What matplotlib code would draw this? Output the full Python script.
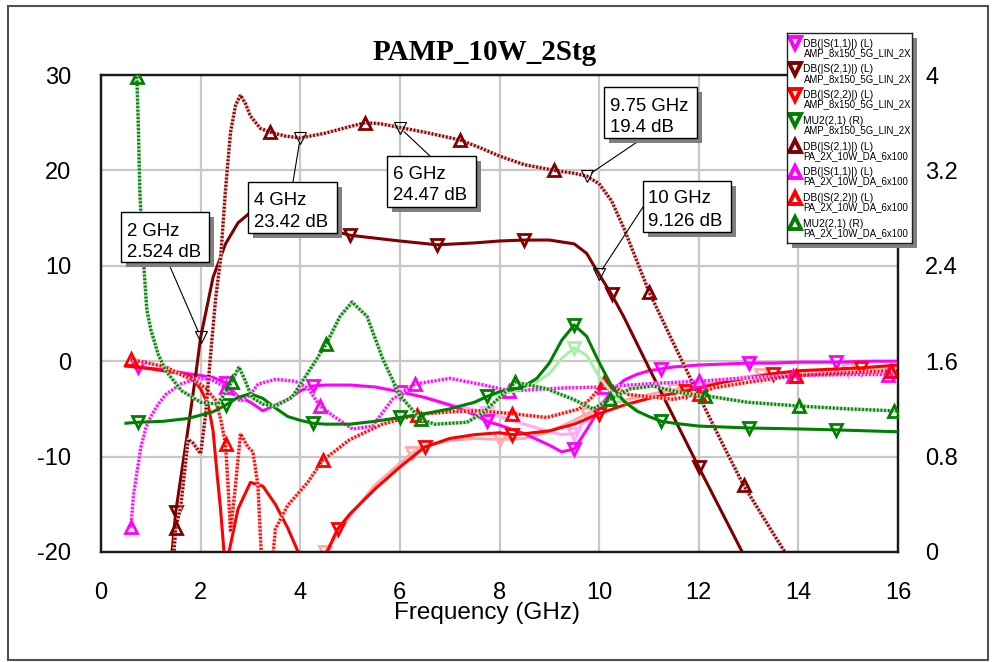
import matplotlib
matplotlib.use("Agg")
import matplotlib.pyplot as plt
from matplotlib.patches import Rectangle

plt.rcParams['font.family'] = ['Liberation Sans', 'DejaVu Sans']

# ------------------------------------------------------------------ data
# AMP_8x150_5G_LIN_2X  (solid traces, down-triangle markers)
f_amp_s11 = [0.5, 0.75, 1.25, 1.75, 2.25, 2.5, 2.75, 3.0, 3.25, 3.5, 3.75, 4.0, 4.25, 4.5, 5.0,
             5.5, 6.0, 6.5, 7.0, 7.5, 7.75, 8.0, 8.5, 9.0, 9.25, 9.5, 9.75, 10.0, 10.25, 10.5,
             10.75, 11.0, 11.25, 11.5, 12.0, 12.5, 13.0, 13.5, 14.0, 14.75, 15.5, 16.0]
v_amp_s11 = [-0.5, -0.6, -0.9, -1.3, -1.7, -2.3, -3.7, -4.3, -5.2, -4.6, -4.0, -3.1, -2.6, -2.5, -2.5,
             -2.7, -3.2, -3.8, -4.6, -5.6, -6.3, -6.7, -7.6, -8.8, -9.5, -9.2, -7.2, -5.0, -3.2, -2.0,
             -1.4, -1.0, -0.8, -0.6, -0.4, -0.3, -0.2, -0.2, -0.1, -0.1, 0.0, 0.0]
mk_amp_s11 = [0.75, 2.5, 4.25, 6.0, 7.75, 9.5, 11.25, 13.0, 14.75]

f_amp_s21 = [1.4, 1.5, 1.6, 1.75, 1.9, 2.0, 2.1, 2.25, 2.5, 2.75, 3.0, 3.25, 3.5, 4.0, 4.5,
             5.0, 5.5, 6.0, 6.75, 7.5, 8.0, 8.5, 9.0, 9.5, 9.75, 10.0, 10.25, 10.5, 11.0, 11.5,
             12.0, 12.5, 13.0]
v_amp_s21 = [-21.5, -15.8, -12.3, -7.0, -1.5, 2.5, 5.0, 8.8, 12.3, 14.5, 15.6, 16.0, 15.7, 14.8, 13.9,
             13.2, 12.9, 12.6, 12.2, 12.4, 12.6, 12.7, 12.7, 12.3, 11.3, 9.1, 7.0, 4.6, -0.7, -5.9,
             -11.1, -16.2, -21.3]
mk_amp_s21 = [1.5, 3.25, 5.0, 6.75, 8.5, 10.25, 12.0]

f_amp_s22 = [0.5, 1.0, 1.5, 1.8, 2.0, 2.15, 2.25, 2.33, 2.4, 2.5, 2.55, 2.75, 3.0, 3.25, 3.5,
             3.75, 4.0, 4.25, 4.5, 4.75, 5.0, 5.5, 6.0, 6.5, 7.0, 7.5, 8.0, 8.25, 8.5, 9.0,
             9.5, 10.0, 10.5, 11.0, 11.75, 12.5, 13.5, 14.0, 15.25, 16.0]
v_amp_s22 = [-0.5, -0.8, -1.2, -1.6, -2.9, -4.5, -7.3, -11.8, -15.5, -22.0, -20.5, -15.5, -12.7, -13.1, -15.0,
             -17.5, -20.5, -24.0, -20.4, -17.6, -16.0, -13.4, -11.1, -9.0, -8.1, -7.7, -7.5, -7.7, -7.6, -7.3,
             -6.6, -5.5, -4.6, -3.9, -3.1, -2.2, -1.3, -1.0, -0.7, -0.4]
mk_amp_s22 = [4.75, 6.5, 8.25, 10.0, 11.75, 13.5, 15.25]

f_amp_mu2 = [0.5, 0.75, 1.25, 1.75, 2.25, 2.5, 2.75, 3.0, 3.25, 3.5, 3.75, 4.0, 4.25, 4.5,
             5.0, 5.5, 6.0, 6.5, 7.0, 7.5, 7.75, 8.0, 8.25, 8.5, 8.75, 9.0, 9.25, 9.5, 9.75, 10.0,
             10.25, 10.5, 10.75, 11.0, 11.25, 11.5, 12.0, 12.5, 13.0, 14.0, 14.75, 16.0]
v_amp_mu2 = [1.080, 1.088, 1.096, 1.120, 1.176, 1.232, 1.296, 1.328, 1.288, 1.208, 1.136, 1.104, 1.080, 1.072,
             1.072, 1.096, 1.128, 1.160, 1.200, 1.256, 1.304, 1.344, 1.360, 1.392, 1.456, 1.584, 1.776, 1.904, 1.808, 1.590,
             1.392, 1.264, 1.184, 1.136, 1.096, 1.080, 1.056, 1.048, 1.040, 1.032, 1.024, 1.008]
mk_amp_mu2 = [0.75, 2.5, 4.25, 6.0, 7.75, 9.5, 11.25, 13.0, 14.75]

# previous-sweep (history) traces of the AMP, drawn in light colours
f_hist_s11 = [6.5, 7.0, 7.5, 7.75, 8.0, 8.5, 9.0, 9.25, 9.5, 9.75, 10.0, 10.25, 10.5, 10.75]
v_hist_s11 = [-3.8, -4.5, -5.1, -5.4, -5.8, -6.6, -7.4, -7.7, -7.6, -6.0, -4.6, -3.2, -2.0, -1.4]
mk_hist_s11 = [7.75, 9.5]

f_hist_s22 = [4.3, 4.5, 5.0, 5.5, 6.0, 6.25, 6.5, 7.0, 7.5, 8.0, 8.5, 9.0, 9.5, 9.75, 10.0,
              10.5, 11.0, 11.5, 12.0, 12.5, 13.25, 14.0, 15.0, 16.0]
v_hist_s22 = [-22.0, -20.0, -16.2, -13.0, -10.7, -9.6, -8.9, -8.3, -8.1, -8.2, -8.1, -7.4, -6.2, -5.5, -4.9,
              -4.1, -3.5, -3.0, -2.5, -2.0, -1.4, -1.1, -0.9, -0.6]
mk_hist_s22 = [4.5, 6.25, 8.0, 9.75, 11.5, 13.25, 15.0]

f_hist_mu2 = [7.5, 7.75, 8.0, 8.25, 8.5, 8.75, 9.0, 9.25, 9.5, 9.75, 10.0, 10.25, 10.5, 10.75]
v_hist_mu2 = [1.256, 1.304, 1.328, 1.344, 1.376, 1.424, 1.496, 1.624, 1.712, 1.648, 1.472, 1.336, 1.256, 1.200]
mk_hist_mu2 = [7.75, 9.5]

# PA_2X_10W_DA_6x100  (dotted traces, up-triangle markers)
f_pa_s21 = [1.45, 1.5, 1.6, 1.75, 1.85, 2.0, 2.1, 2.2, 2.3, 2.4, 2.5, 2.6, 2.7, 2.8, 2.9,
            3.0, 3.2, 3.4, 3.7, 4.0, 4.5, 5.0, 5.3, 5.6, 6.0, 6.5, 7.2, 7.6, 8.0, 8.5,
            9.1, 9.5, 9.75, 10.0, 10.25, 10.5, 11.0, 11.5, 12.0, 12.5, 12.9, 13.5, 13.8]
v_pa_s21 = [-21.0, -17.5, -15.3, -8.2, -8.6, -9.7, -5.6, 0.7, 6.5, 10.7, 18.0, 24.0, 26.8, 27.9, 27.0,
            25.7, 24.4, 24.0, 23.6, 23.4, 23.9, 24.6, 25.0, 24.9, 24.5, 24.0, 23.2, 22.4, 21.5, 20.6,
            20.0, 19.7, 19.4, 18.6, 16.8, 13.9, 7.3, 1.8, -3.6, -8.9, -13.0, -18.1, -20.6]
mk_pa_s21 = [1.5, 3.4, 5.3, 7.2, 9.1, 11.0, 12.9]

f_pa_s11 = [0.6, 0.65, 0.72, 0.8, 0.9, 1.0, 1.15, 1.3, 1.6, 1.95, 2.2, 2.5, 2.65, 2.8, 3.0,
            3.15, 3.5, 3.9, 4.15, 4.4, 4.65, 5.05, 5.45, 5.85, 6.3, 7.0, 7.6, 8.2, 8.6, 9.3,
            10.1, 10.6, 11.2, 12.0, 12.8, 13.9, 15.0, 15.8, 16.0]
v_pa_s11 = [-17.4, -14.1, -11.7, -9.0, -7.0, -5.8, -4.5, -3.5, -2.4, -1.8, -1.9, -2.7, -3.4, -4.2, -3.5,
            -2.4, -1.9, -2.1, -2.8, -4.7, -5.7, -7.1, -6.8, -4.0, -2.4, -1.8, -2.4, -3.1, -3.0, -2.8,
            -2.7, -2.5, -2.3, -2.1, -1.8, -1.5, -1.4, -1.4, -1.4]
mk_pa_s11 = [0.6, 2.5, 4.4, 6.3, 8.2, 10.1, 12.0, 13.9, 15.8]

f_pa_s22 = [0.6, 1.3, 1.6, 1.9, 2.1, 2.3, 2.4, 2.5, 2.55, 2.6, 2.7, 2.8, 2.95, 3.05, 3.15,
            3.22, 3.33, 3.45, 3.5, 3.75, 4.15, 4.45, 5.0, 5.65, 6.35, 7.0, 7.6, 8.25, 8.95, 9.6,
            9.85, 10.1, 10.6, 11.5, 12.0, 12.3, 13.0, 13.95, 15.0, 15.85, 16.0]
v_pa_s22 = [0.2, -0.6, -1.4, -2.1, -2.8, -4.1, -6.0, -8.7, -13.0, -17.9, -13.0, -7.6, -9.0, -9.5, -13.0,
            -20.5, -23.0, -20.5, -17.6, -15.1, -12.7, -10.4, -8.2, -6.6, -5.6, -5.3, -5.2, -5.5, -5.9, -5.0,
            -3.8, -2.2, -3.5, -4.0, -3.4, -2.8, -2.2, -1.5, -1.2, -1.0, -1.0]
mk_pa_s22 = [0.6, 2.5, 4.45, 6.35, 8.25, 10.1, 12.0, 13.95, 15.85]

f_pa_mu2 = [0.72, 0.75, 0.78, 0.85, 0.92, 1.0, 1.15, 1.3, 1.62, 2.0, 2.35, 2.55, 2.62, 2.77, 2.9,
            3.03, 3.25, 3.5, 3.83, 4.23, 4.52, 4.8, 5.04, 5.34, 5.66, 6.0, 6.42, 6.7, 7.35, 7.67,
            8.0, 8.32, 8.95, 9.48, 9.88, 10.22, 10.62, 11.08, 11.63, 12.12, 12.97, 14.02, 15.0, 15.92, 16.0]
v_pa_mu2 = [3.984, 3.568, 3.016, 2.456, 2.032, 1.864, 1.656, 1.520, 1.352, 1.256, 1.240, 1.376, 1.424, 1.552, 1.432,
            1.296, 1.240, 1.224, 1.296, 1.552, 1.744, 1.976, 2.096, 1.976, 1.616, 1.312, 1.112, 1.072, 1.088, 1.168,
            1.296, 1.424, 1.368, 1.280, 1.200, 1.280, 1.368, 1.392, 1.336, 1.312, 1.256, 1.224, 1.200, 1.184, 1.184]
mk_pa_mu2 = [0.72, 2.62, 4.52, 6.42, 8.32, 10.22, 12.12, 14.02, 15.92]

# marker readouts
ann_freq = [2, 4, 6, 9.75, 10]
ann_db = [2.524, 23.42, 24.47, 19.4, 9.126]

legend_names = ["DB(|S(1,1)|) (L)", "DB(|S(2,1)|) (L)", "DB(|S(2,2)|) (L)", "MU2(2,1) (R)",
                "DB(|S(2,1)|) (L)", "DB(|S(1,1)|) (L)", "DB(|S(2,2)|) (L)", "MU2(2,1) (R)"]
legend_devs = ["AMP_8x150_5G_LIN_2X"] * 4 + ["PA_2X_10W_DA_6x100"] * 4

x_ticks = [0, 2, 4, 6, 8, 10, 12, 14, 16]
y_left_ticks = [-20, -10, 0, 10, 20, 30]
y_right_ticks = [0, 0.8, 1.6, 2.4, 3.2, 4]
y_right_labels = ["0", "0.8", "1.6", "2.4", "3.2", "4"]

# ------------------------------------------------------------------ figure
W, H = 992, 662
fig = plt.figure(figsize=(W / 100, H / 100), dpi=100)
fig.patch.set_facecolor('white')

AX_L, AX_R, AX_T, AX_B = 101, 898, 75, 552
ax = fig.add_axes([AX_L / W, 1 - AX_B / H, (AX_R - AX_L) / W, (AX_B - AX_T) / H])
ax.set_xlim(0, 16)
ax.set_ylim(-20, 30)
ax2 = ax.twinx()
ax2.set_ylim(0, 4)

ax.set_xticks(x_ticks)
ax.set_xticklabels([str(t) for t in x_ticks])
ax.set_yticks(y_left_ticks)
ax.set_yticklabels([str(t) for t in y_left_ticks])
ax2.set_yticks(y_right_ticks)
ax2.set_yticklabels(y_right_labels)
ax.tick_params(axis='x', length=0, labelsize=17, pad=21.5)
ax.tick_params(axis='y', length=0, labelsize=17, pad=21.5)
ax2.tick_params(axis='y', length=0, labelsize=17, pad=19.5)
ax.grid(True, color='#c8c8c8', lw=1.6)
ax.set_axisbelow(True)
for a in (ax, ax2):
    for s in a.spines.values():
        s.set_linewidth(1.6)
        s.set_color('#1a1a1a')


def mk_idx(f, marks):
    return [min(range(len(f)), key=lambda i: abs(f[i] - m)) for m in marks]


MS, MEW = 9, 2.0


def solid(a, f, v, mk, marker, color, z=3, lw=2.2):
    a.plot(f, v, color=color, lw=lw, marker=marker, ms=MS, mew=MEW, mfc='none', mec=color,
           markevery=mk_idx(f, mk), zorder=z, solid_joinstyle='round')


def dotted(a, f, v, mk, marker, color, light, z=3):
    a.plot(f, v, color=light, lw=2.4, zorder=z)
    a.plot(f, v, color=color, lw=2.4, ls=(0, (0.5, 0.6)), marker=marker, ms=MS, mew=MEW,
           mfc='none', mec=color, markevery=mk_idx(f, mk), zorder=z + 0.01)


MAG, DRED, RED, GRN = '#ff00ff', '#800000', '#ff0000', '#008000'

# history traces
solid(ax, f_hist_s11, v_hist_s11, mk_hist_s11, 'v', '#ffaaff', z=2)
solid(ax, f_hist_s22, v_hist_s22, mk_hist_s22, 'v', '#ffaaaa', z=2)
solid(ax2, f_hist_mu2, v_hist_mu2, mk_hist_mu2, 'v', '#a8f0a8', z=2)

# AMP traces
solid(ax, f_amp_s11, v_amp_s11, mk_amp_s11, 'v', MAG)
solid(ax, f_amp_s21, v_amp_s21, mk_amp_s21, 'v', DRED)
solid(ax, f_amp_s22, v_amp_s22, mk_amp_s22, 'v', RED)
solid(ax2, f_amp_mu2, v_amp_mu2, mk_amp_mu2, 'v', GRN)

# PA traces
dotted(ax, f_pa_s21, v_pa_s21, mk_pa_s21, '^', DRED, '#e8b0b0', z=4)
dotted(ax, f_pa_s11, v_pa_s11, mk_pa_s11, '^', MAG, '#ffb8ff', z=4)
dotted(ax, f_pa_s22, v_pa_s22, mk_pa_s22, '^', RED, '#ffb8b8', z=4)
dotted(ax2, f_pa_mu2, v_pa_mu2, mk_pa_mu2, '^', GRN, '#a8d8a8', z=4)

# ------------------------------------------------------------------ marker readouts
ax.plot(ann_freq, ann_db, ls='none', marker='v', ms=9, mfc='none', mec='black', mew=0.8, zorder=8)
box_px = [(121, 212, 209, 262), (248, 182, 337, 233), (387, 156, 476, 207),
          (604, 87, 697, 138), (643, 181, 731, 232)]
text_x = [127, 254, 393, 610, 648]
base1 = [236, 205, 179, 111, 203]
base2 = [257, 227, 200, 132, 226]
lead_px = [(168, 262), (293, 182), (430, 156), (643, 138), (643, 207)]

for i, (fr, db) in enumerate(zip(ann_freq, ann_db)):
    sx, sy = lead_px[i]
    ax.annotate('', xy=(fr, db), xycoords='data', xytext=(sx, H - sy), textcoords='figure pixels',
                arrowprops=dict(arrowstyle='-', color='black', lw=0.8, shrinkA=0, shrinkB=4),
                zorder=8)
    x0, y0, x1, y1 = box_px[i]
    fig.add_artist(Rectangle(((x0 + 5) / W, 1 - (y1 + 5) / H), (x1 - x0) / W, (y1 - y0) / H,
                             transform=fig.transFigure, fc='#808080', ec='none', zorder=6))
    fig.add_artist(Rectangle((x0 / W, 1 - y1 / H), (x1 - x0) / W, (y1 - y0) / H,
                             transform=fig.transFigure, fc='white', ec='black', lw=1.0, zorder=6.1))
    fig.text(text_x[i] / W, 1 - base1[i] / H, f"{fr:g} GHz", fontsize=13.4, va='baseline',
             ha='left', zorder=6.2)
    fig.text(text_x[i] / W, 1 - base2[i] / H, f"{db:g} dB", fontsize=13.4, va='baseline',
             ha='left', zorder=6.2)

# ------------------------------------------------------------------ legend
LG_L, LG_T, LG_R, LG_B = 787, 33, 912, 243
fig.add_artist(Rectangle(((LG_L + 5) / W, 1 - (LG_B + 5) / H), (LG_R - LG_L) / W, (LG_B - LG_T) / H,
                         transform=fig.transFigure, fc='#808080', ec='none', zorder=8))
lax = fig.add_axes([LG_L / W, 1 - LG_B / H, (LG_R - LG_L) / W, (LG_B - LG_T) / H], zorder=9)
lax.set_xlim(0, LG_R - LG_L)
lax.set_ylim(LG_B - LG_T, 0)
lax.set_xticks([])
lax.set_yticks([])
lax.set_facecolor('white')
for s in lax.spines.values():
    s.set_linewidth(1.0)
    s.set_color('#202020')
leg_markers = ['v', 'v', 'v', 'v', '^', '^', '^', '^']
leg_colors = [MAG, DRED, RED, GRN, DRED, MAG, RED, GRN]
for i in range(8):
    y = 10.3 + 25.7 * i
    lax.plot([8], [y], ls='none', marker=leg_markers[i], ms=8.5, mfc='none', mec=leg_colors[i], mew=2.8)
    lax.text(16, y + 0.5, legend_names[i], fontsize=7.4, va='center', ha='left', clip_on=True)
    lax.text(16.5, y + 9.8, legend_devs[i], fontsize=6.9, va='center', ha='left', clip_on=True)

# ------------------------------------------------------------------ title, label, frame
fig.text(485 / W, 1 - 60 / H, 'PAMP_10W_2Stg', fontsize=21, fontweight='bold',
         family=['Liberation Serif', 'DejaVu Serif'], ha='center', va='baseline')
fig.text(487.5 / W, 1 - 619 / H, 'Frequency (GHz)', fontsize=17.5, ha='center', va='baseline')
fig.add_artist(Rectangle((8 / W, 1 - 660 / H), 980 / W, 654 / H, transform=fig.transFigure,
                         fill=False, ec='#505050', lw=1.5, zorder=10))

fig.savefig('out.png', dpi=100)
